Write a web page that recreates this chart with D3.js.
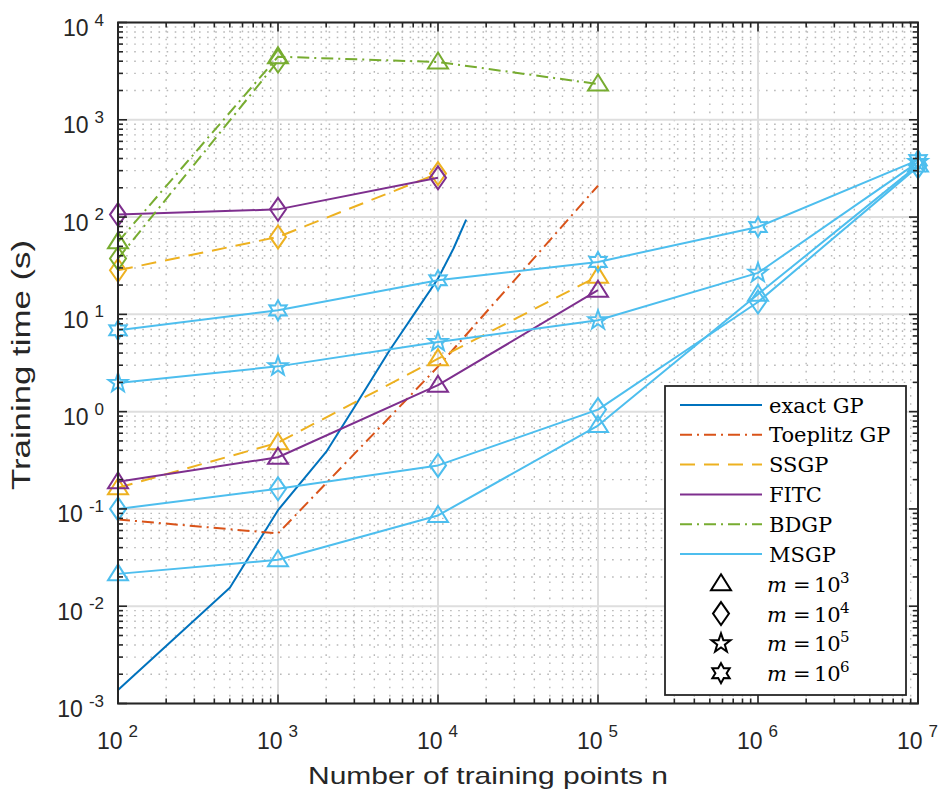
<!DOCTYPE html>
<html>
<head>
<meta charset="utf-8">
<script src="https://cdn.jsdelivr.net/npm/d3@7"></script>
<style>
  body { margin: 0; background: #fff; }
  svg { display: block; }
</style>
</head>
<body>
<svg id="chart" width="943" height="794"></svg>
<script>
// ---- data: training time (s) versus number of training points n ----
const methodNames  = ["exact GP", "Toeplitz GP", "SSGP", "FITC", "BDGP", "MSGP"];
const methodColors = ["#0072BD", "#D95319", "#EDB120", "#7E2F8E", "#77AC30", "#4DBEEE"];
const markerExps   = ["3", "4", "5", "6"];            // m = 10^3 ... 10^6

const nExact = [100, 500, 1000, 2000, 3000, 4000, 5000, 6000, 7000, 8000, 9000, 10000, 12500, 15000];
const tExact = [0.00138, 0.0155, 0.097, 0.385, 1.11, 2.38, 4.3, 6.7, 9.75, 13.5, 18.0, 23.3, 47.5, 94];

const nToeplitz = [100, 1000, 10000, 100000];
const tToeplitz = [0.078, 0.056, 2.9, 210];

const nUpTo1e5 = [100, 1000, 10000, 100000];
const nUpTo1e4 = [100, 1000, 10000];
const nUpTo1e3 = [100, 1000];
const nMSGP    = [100, 1000, 10000, 100000, 1000000, 10000000];

const tSSGP_m3 = [0.165, 0.48, 3.5, 24.7];
const tSSGP_m4 = [28.4, 62.5, 280];
const tFITC_m3 = [0.19, 0.34, 1.87, 17.7];
const tFITC_m4 = [106, 120, 253];
const tBDGP_m3 = [55.6, 4450, 3925, 2330];
const tBDGP_m4 = [37.5, 4020];
const tMSGP_m3 = [0.0215, 0.030, 0.0857, 0.72, 16.1, 342];
const tMSGP_m4 = [0.10, 0.161, 0.28, 1.05, 13.4, 330];
const tMSGP_m5 = [1.97, 2.92, 5.2, 8.7, 26.7, 367];
const tMSGP_m6 = [6.86, 11.0, 22.4, 34.6, 79, 385];

const xTickExps = ["2", "3", "4", "5", "6", "7"];
const yTickExps = ["-3", "-2", "-1", "0", "1", "2", "3", "4"];

// ---- series table (method index, marker key, n, t) ----
const zip = (n, t) => n.map((v, i) => ({ n: v, t: t[i] }));
const series = [
  { m: 0, marker: null, pts: zip(nExact, tExact) },
  { m: 1, marker: null, pts: zip(nToeplitz, tToeplitz) },
  { m: 2, marker: "3", pts: zip(nUpTo1e5, tSSGP_m3) },
  { m: 2, marker: "4", pts: zip(nUpTo1e4, tSSGP_m4) },
  { m: 3, marker: "3", pts: zip(nUpTo1e5, tFITC_m3) },
  { m: 3, marker: "4", pts: zip(nUpTo1e4, tFITC_m4) },
  { m: 4, marker: "3", pts: zip(nUpTo1e5, tBDGP_m3) },
  { m: 4, marker: "4", pts: zip(nUpTo1e3, tBDGP_m4) },
  { m: 5, marker: "3", pts: zip(nMSGP, tMSGP_m3) },
  { m: 5, marker: "4", pts: zip(nMSGP, tMSGP_m4) },
  { m: 5, marker: "5", pts: zip(nMSGP, tMSGP_m5) },
  { m: 5, marker: "6", pts: zip(nMSGP, tMSGP_m6) }
];

const dashes = [null, "12,5,2,5", "15,9", null, "12,5,2,5", null];

// ---- layout ----
const L = 118, R = 918, T = 22.5, B = 703.5;
const axisColor = "#262626";
const sans = "'Liberation Sans', Arial, Helvetica, sans-serif";
const serif = "'DejaVu Serif', 'Liberation Serif', serif";

const svg = d3.select("#chart");
const x = d3.scaleLog().domain([1e2, 1e7]).range([L, R]);
const y = d3.scaleLog().domain([1e-3, 1e4]).range([B, T]);

const isMajor = v => Math.abs(Math.log10(v) - Math.round(Math.log10(v))) < 1e-9;
const xTicks = x.ticks();
const yTicks = y.ticks();

// ---- grid ----
const grid = svg.append("g");
grid.selectAll(".xminor").data(xTicks.filter(v => !isMajor(v))).join("line")
  .attr("x1", d => x(d)).attr("x2", d => x(d)).attr("y1", T).attr("y2", B)
  .attr("stroke", "#b8b8b8").attr("stroke-width", 1.4).attr("stroke-dasharray", "1.6,6.5");
grid.selectAll(".yminor").data(yTicks.filter(v => !isMajor(v))).join("line")
  .attr("y1", d => y(d)).attr("y2", d => y(d)).attr("x1", L).attr("x2", R)
  .attr("stroke", "#b8b8b8").attr("stroke-width", 1.4).attr("stroke-dasharray", "1.6,6.5");
grid.selectAll(".xmajor").data(xTicks.filter(isMajor)).join("line")
  .attr("x1", d => x(d)).attr("x2", d => x(d)).attr("y1", T).attr("y2", B)
  .attr("stroke", "#dedede").attr("stroke-width", 2);
grid.selectAll(".ymajor").data(yTicks.filter(isMajor)).join("line")
  .attr("y1", d => y(d)).attr("y2", d => y(d)).attr("x1", L).attr("x2", R)
  .attr("stroke", "#dedede").attr("stroke-width", 2);

// ---- marker shapes ----
function starPath(points, rOut, rIn) {
  const p = [];
  for (let i = 0; i < points * 2; i++) {
    const r = i % 2 === 0 ? rOut : rIn;
    const a = -Math.PI / 2 + i * Math.PI / points;
    p.push([r * Math.cos(a), r * Math.sin(a)]);
  }
  return "M" + p.map(q => q[0].toFixed(2) + "," + q[1].toFixed(2)).join("L") + "Z";
}
const markerPaths = {
  "3": "M0,-9.5L10,6.5L-10,6.5Z",
  "4": "M0,-11.5L8,0L0,11.5L-8,0Z",
  "5": starPath(5, 10, 4),
  "6": starPath(6, 10, 5.6)
};

// ---- lines and markers ----
const line = d3.line().x(d => x(d.n)).y(d => y(d.t));
const plot = svg.append("g");
series.forEach(s => {
  plot.append("path")
    .attr("d", line(s.pts))
    .attr("fill", "none")
    .attr("stroke", methodColors[s.m])
    .attr("stroke-width", 2)
    .attr("stroke-linejoin", "round")
    .attr("stroke-dasharray", dashes[s.m]);
  if (s.marker) {
    plot.selectAll(null).data(s.pts).join("path")
      .attr("transform", d => `translate(${x(d.n)},${y(d.t)})`)
      .attr("d", markerPaths[s.marker])
      .attr("fill", "none")
      .attr("stroke", methodColors[s.m])
      .attr("stroke-width", 2)
      .attr("stroke-linejoin", "miter");
  }
});

// ---- axes box and inward ticks ----
const ax = svg.append("g").attr("stroke", axisColor).attr("stroke-width", 1.6);
xTicks.forEach(v => {
  const len = isMajor(v) ? 9 : 5;
  ax.append("line").attr("x1", x(v)).attr("x2", x(v)).attr("y1", B).attr("y2", B - len);
  ax.append("line").attr("x1", x(v)).attr("x2", x(v)).attr("y1", T).attr("y2", T + len);
});
yTicks.forEach(v => {
  const len = isMajor(v) ? 9 : 5;
  ax.append("line").attr("y1", y(v)).attr("y2", y(v)).attr("x1", L).attr("x2", L + len);
  ax.append("line").attr("y1", y(v)).attr("y2", y(v)).attr("x1", R).attr("x2", R - len);
});
ax.append("rect").attr("x", L).attr("y", T).attr("width", R - L).attr("height", B - T)
  .attr("fill", "none").attr("stroke-width", 2);

// ---- tick labels ----
const xLab = svg.append("g").attr("font-family", sans).attr("fill", axisColor);
xTicks.filter(isMajor).forEach((v, i) => {
  const t = xLab.append("text").attr("x", x(v) - 0.5).attr("y", B + 45.5)
    .attr("text-anchor", "middle").attr("font-size", 23);
  t.append("tspan").text("10");
  t.append("tspan").attr("dx", 6).attr("dy", -12).attr("font-size", 17).text(xTickExps[i]);
});
const yLab = svg.append("g").attr("font-family", sans).attr("fill", axisColor);
yTicks.filter(isMajor).forEach((v, i) => {
  const t = yLab.append("text").attr("x", 104).attr("y", y(v) + 13.5)
    .attr("text-anchor", "end").attr("font-size", 23);
  t.append("tspan").text("10");
  t.append("tspan").attr("dx", 6).attr("dy", -10.5).attr("font-size", 17).text(yTickExps[i]);
});

// ---- axis titles ----
svg.append("text").attr("x", 488).attr("y", 784)
  .attr("text-anchor", "middle").attr("font-family", sans).attr("font-size", 24)
  .attr("textLength", 360).attr("lengthAdjust", "spacingAndGlyphs")
  .attr("fill", axisColor).text("Number of training points n");
svg.append("text").attr("transform", "translate(30,365) rotate(-90)")
  .attr("text-anchor", "middle").attr("font-family", sans).attr("font-size", 25)
  .attr("textLength", 250).attr("lengthAdjust", "spacingAndGlyphs")
  .attr("fill", axisColor).text("Training time (s)");

// ---- legend ----
const lg = svg.append("g");
lg.append("rect").attr("x", 665).attr("y", 386).attr("width", 241).attr("height", 309)
  .attr("fill", "#fff").attr("stroke", axisColor).attr("stroke-width", 1.8);
const rowY = i => 405 + i * 29.8;
methodNames.forEach((name, i) => {
  lg.append("line").attr("x1", 680).attr("x2", 762).attr("y1", rowY(i)).attr("y2", rowY(i))
    .attr("stroke", methodColors[i]).attr("stroke-width", 2)
    .attr("stroke-dasharray", dashes[i]);
  lg.append("text").attr("x", 769).attr("y", rowY(i) + 7.5)
    .attr("font-family", serif).attr("font-size", 21).attr("fill", "#000").text(name);
});
markerExps.forEach((e, j) => {
  const yy = rowY(methodNames.length + j);
  lg.append("path").attr("transform", `translate(721,${yy})`).attr("d", markerPaths[e])
    .attr("fill", "none").attr("stroke", "#000").attr("stroke-width", 2);
  const t = lg.append("text").attr("y", yy + 8).attr("font-family", serif)
    .attr("font-size", 21).attr("fill", "#000");
  t.append("tspan").attr("x", 767).attr("font-style", "italic").text("m");
  t.append("tspan").attr("x", 793).text("=");
  t.append("tspan").attr("x", 814).text("10");
  t.append("tspan").attr("x", 840).attr("dy", -9).attr("font-size", 15).text(e);
});
</script>
</body>
</html>
